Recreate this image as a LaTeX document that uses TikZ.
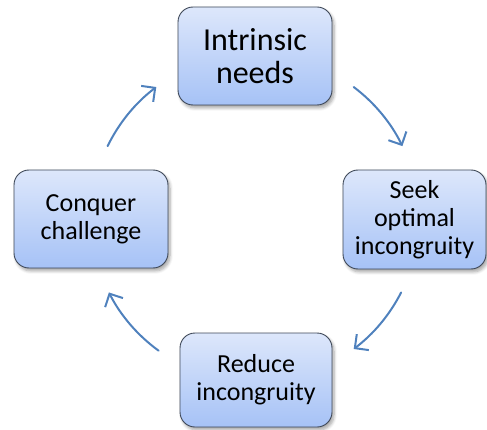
\documentclass[tikz,border=0pt]{standalone}
\usepackage{fontspec}
\setmainfont{Carlito}
\usetikzlibrary{arrows.meta,shadows.blur}
\definecolor{boxtop}{RGB}{221,231,251}
\definecolor{boxbot}{RGB}{166,194,246}
\definecolor{boxline}{RGB}{62,72,88}
\definecolor{cyclecol}{RGB}{79,129,189}
\tikzset{
  stagebox/.style={draw=boxline, line width=0.9pt, rounded corners=15pt,
    top color=boxtop, bottom color=boxbot, align=center, inner sep=2pt,
    blur shadow={shadow xshift=2pt, shadow yshift=-3pt, shadow blur steps=6,
      shadow blur radius=3pt, shadow opacity=35},
    font=\fontsize{26}{28}\selectfont},
  bigtext/.style={font=\fontsize{32}{33}\selectfont},
  cyclearrow/.style={draw=cyclecol, line width=2pt, line cap=round,
    -{Straight Barb[length=10pt, width=20pt, line width=2pt]}}
}
\begin{document}
\begin{tikzpicture}[x=1pt, y=1pt]
  \useasboundingbox (0,0) rectangle (487,429);
  % the four stages of the cycle
  \node[stagebox, bigtext, minimum width=154pt, minimum height=98pt] (needs) at (255,373) {Intrinsic\\needs};
  \node[stagebox, minimum width=143pt, minimum height=99pt] (seek) at (414.5,209.5) {Seek\\optimal\\incongruity};
  \node[stagebox, minimum width=152pt, minimum height=94pt] (reduce) at (256,49) {Reduce\\incongruity};
  \node[stagebox, minimum width=154pt, minimum height=98pt] (conquer) at (91,210) {Conquer\\challenge};
  % circular arrows, all on one circle around the centre
  \coordinate (hub) at (255,211);
  \coordinate (a1) at ([shift={(53:164)}]hub);
  \coordinate (a2) at ([shift={(-27:164)}]hub);
  \coordinate (a3) at ([shift={(-126:164)}]hub);
  \coordinate (a4) at ([shift={(154:164)}]hub);
  \draw[cyclearrow] (a1) arc[start angle=53, end angle=26, radius=164];
  \draw[cyclearrow] (a2) arc[start angle=-27, end angle=-53, radius=164];
  \draw[cyclearrow] (a3) arc[start angle=-126, end angle=-153, radius=164];
  \draw[cyclearrow] (a4) arc[start angle=154, end angle=127, radius=164];
\end{tikzpicture}
\end{document}
